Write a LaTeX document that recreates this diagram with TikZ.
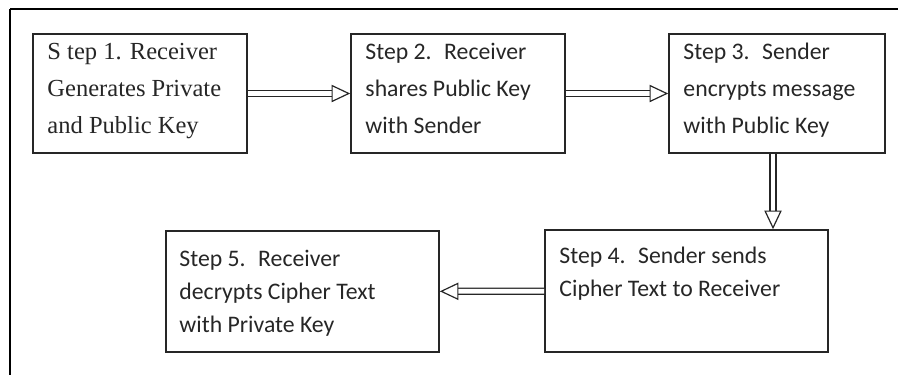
\documentclass[tikz,border=0pt]{standalone}
\usepackage{fontspec}
\setmainfont{Carlito}
\newfontfamily\stepserif{Liberation Serif}
\usetikzlibrary{arrows.meta}

\begin{document}
\begin{tikzpicture}[x=0.75pt, y=-0.75pt,
		stepbox/.style={rectangle, draw=black!85, line width=1.2pt, inner sep=0pt},
		steptext/.style={anchor=north west, align=left, inner sep=0pt, text=black!85,
			font=\fontsize{17.8}{27.5}\selectfont},
		flowarrow/.style={draw=black!85, line width=0.9pt, double, double distance=3.6pt,
			-{Triangle[open, line width=0.9pt, length=14pt, width=13pt]}}]
		\useasboundingbox (0,0) rectangle (898,375);
		
		% Draw the frame
		\draw[line width=1.3pt] (898,9) -- (10,9);
		\draw[line width=2pt] (10,9) -- (10,375);
		
		% Draw the boxes
		\node[stepbox, minimum width=160.5pt, minimum height=89.25pt] (s1) at (140,93.5) {};
		\node[stepbox, minimum width=160.5pt, minimum height=89.25pt] (s2) at (458,93.5) {};
		\node[stepbox, minimum width=162pt, minimum height=89.25pt] (s3) at (777,93.5) {};
		\node[stepbox, minimum width=212.25pt, minimum height=91.5pt] (s4) at (686.5,291) {};
		\node[stepbox, minimum width=204.75pt, minimum height=90.75pt] (s5) at (302.5,291.5) {};
		
		% Draw the texts
		\node[steptext, font=\stepserif\fontsize{18.4}{27.5}\selectfont] (t1) at ([shift={(15,10)}]s1.north west)
			{S tep 1. Receiver\\Generates Private\\and Public Key};
		\node[steptext] (t2) at ([shift={(15,10)}]s2.north west)
			{Step 2.~ Receiver\\shares Public Key\\with Sender};
		\node[steptext] (t3) at ([shift={(15,10)}]s3.north west)
			{Step 3.~ Sender\\encrypts message\\with Public Key};
		\node[steptext, font=\fontsize{17.8}{24.75}\selectfont] (t4) at ([shift={(15,18)}]s4.north west)
			{Step 4.~ Sender sends\\Cipher Text to Receiver};
		\node[steptext, font=\fontsize{17.8}{24.75}\selectfont] (t5) at ([shift={(14,20)}]s5.north west)
			{Step 5.~ Receiver\\decrypts Cipher Text\\with Private Key};
		
		% Draw the arrows
		\draw[flowarrow] (s1) -- (s2);
		\draw[flowarrow] (s2) -- (s3);
		\draw[flowarrow] ([xshift=-3pt]s3.south) -- ([xshift=-3pt]s3.south |- s4.north);
		\draw[flowarrow] (s4) -- (s5);
	\end{tikzpicture}
\end{document}
